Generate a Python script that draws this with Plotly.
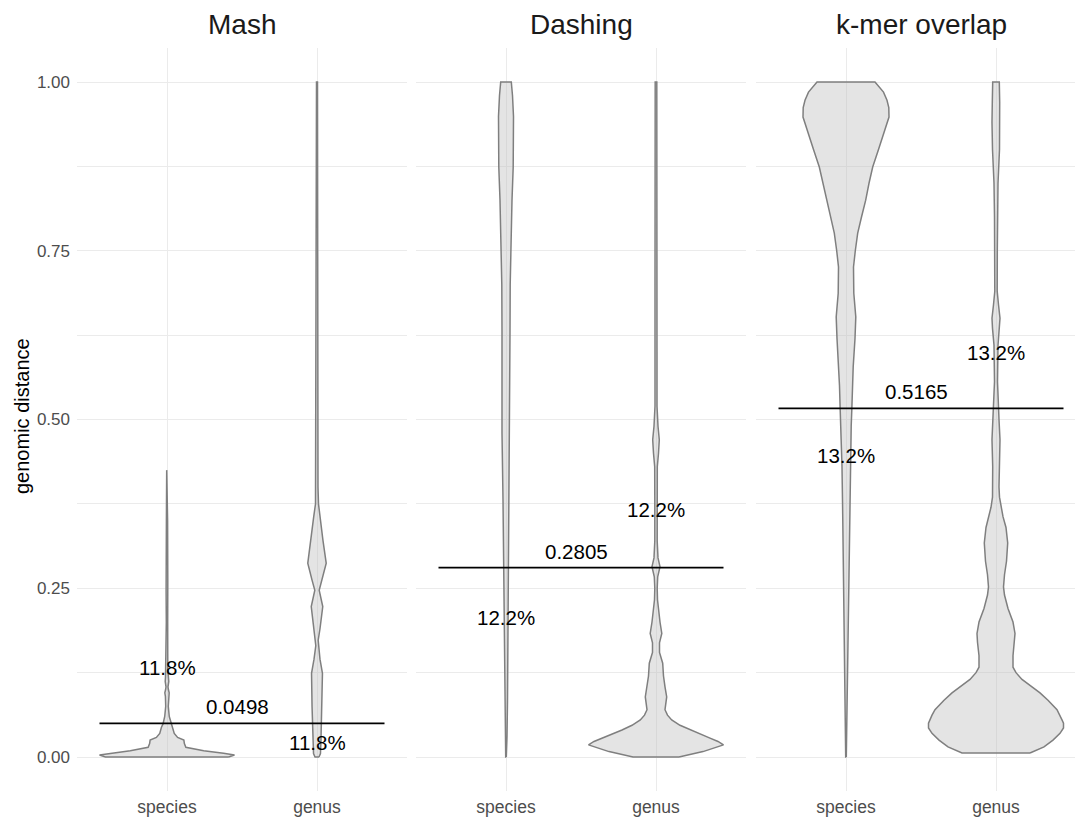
import plotly.graph_objects as go

# ---- data -------------------------------------------------------------
methods = ["Mash", "Dashing", "k-mer overlap"]
groups = ["species", "genus"]

# density profiles (distance, relative density) for each method / group
mash_species_y = [0, 0.003, 0.0055, 0.0094, 0.0143, 0.02, 0.025, 0.029, 0.035, 0.044,
                  0.049, 0.06, 0.075, 0.09, 0.095, 0.1, 0.104, 0.112, 0.118, 0.13,
                  0.2, 0.245, 0.252, 0.26, 0.35, 0.425]
mash_species_d = [62, 68, 57, 37, 19, 17.5, 17, 10.7, 7.3, 5.6,
                  4, 2.3, 1.3, 1.6, 2.2, 1.4, 1.0, 1.8, 1.5, 0.8,
                  0.7, 0.9, 1.4, 0.8, 0.6, 0.3]

mash_genus_y = [0, 0.005, 0.025, 0.075, 0.124, 0.145, 0.165, 0.173, 0.19, 0.223,
                0.247, 0.262, 0.287, 0.321, 0.356, 0.375, 0.4, 0.6, 1.0]
mash_genus_d = [2, 3.5, 4, 5, 5.5, 3, 1.2, 1.2, 3, 5.8,
                2.2, 5, 9.3, 6, 3.3, 1.5, 1.0, 0.8, 0.5]

dashing_species_y = [0, 0.03, 0.084, 0.183, 0.282, 0.381, 0.48, 0.504, 0.55, 0.628,
                     0.7, 0.751, 0.8, 0.825, 0.874, 0.949, 0.98, 1.0]
dashing_species_d = [0.3, 1, 1.5, 2, 2.3, 3, 4, 4, 4.2, 4,
                     4.2, 4.7, 5.5, 6, 7.2, 7.5, 6.5, 5.3]

dashing_genus_y = [0, 0.008, 0.018, 0.023, 0.028, 0.034, 0.04, 0.047, 0.055, 0.062,
                   0.07, 0.089, 0.104, 0.12, 0.139, 0.155, 0.169, 0.183, 0.2, 0.218,
                   0.233, 0.25, 0.267, 0.282, 0.295, 0.32, 0.38, 0.43, 0.45, 0.47,
                   0.49, 0.52, 0.6, 0.7, 0.8, 0.85, 1.0]
dashing_genus_d = [23, 47, 67.5, 62, 54, 44, 34, 24, 15.7, 11.5,
                   9, 10.7, 9, 7.5, 6.7, 3.5, 3.5, 5.8, 4, 2.3,
                   1.5, 1.2, 1.7, 4, 2, 1.2, 1.2, 1.3, 2.5, 3.3,
                   2, 1, 1, 1, 1.5, 1, 0.8]

kmer_species_y = [0, 0.05, 0.1, 0.16, 0.23, 0.29, 0.36, 0.43, 0.49, 0.514,
                  0.55, 0.578, 0.62, 0.652, 0.687, 0.726, 0.75, 0.776, 0.8, 0.825,
                  0.85, 0.874, 0.9, 0.924, 0.948, 0.962, 0.973, 0.985, 0.993, 1.0]
kmer_species_d = [0.3, 0.8, 1.3, 2, 2.4, 2.7, 3.3, 4, 5.2, 5.8,
                  6.5, 7.2, 9, 9.8, 7.8, 7.5, 9.3, 11.7, 15.5, 19.7,
                  23, 26.7, 32.5, 38, 43, 42.8, 41, 37.5, 33, 29]

kmer_genus_y = [0.006, 0.015, 0.025, 0.035, 0.043, 0.05, 0.055, 0.062, 0.07, 0.084,
                0.095, 0.104, 0.115, 0.125, 0.133, 0.15, 0.17, 0.183, 0.2, 0.22,
                0.24, 0.252, 0.27, 0.29, 0.317, 0.34, 0.356, 0.37, 0.385, 0.4,
                0.43, 0.47, 0.5, 0.52, 0.556, 0.61, 0.635, 0.65, 0.67, 0.69,
                0.75, 0.8, 0.85, 0.9, 0.94, 0.97, 1.0]
kmer_genus_d = [34, 48, 57, 64, 67.5, 67.5, 66, 64, 61, 52,
                44, 36, 26, 20, 17, 17, 18.5, 19, 17, 12,
                8.5, 7.5, 8.5, 10.5, 11.7, 10, 7, 5, 3.5, 3,
                3.3, 4, 3, 2.7, 1.5, 2, 3.5, 4, 2.5, 1.2,
                1.3, 1.5, 2, 3.5, 4, 3.7, 3.3]

profiles = {
    ("Mash", "species"): (mash_species_y, mash_species_d),
    ("Mash", "genus"): (mash_genus_y, mash_genus_d),
    ("Dashing", "species"): (dashing_species_y, dashing_species_d),
    ("Dashing", "genus"): (dashing_genus_y, dashing_genus_d),
    ("k-mer overlap", "species"): (kmer_species_y, kmer_species_d),
    ("k-mer overlap", "genus"): (kmer_genus_y, kmer_genus_d),
}

thresholds = [0.0498, 0.2805, 0.5165]
pct_labels = ["11.8%", "12.2%", "13.2%"]
# y positions of the percentage labels (species, genus)
pct_species_y = [0.133, 0.207, 0.447]
pct_genus_y = [0.021, 0.366, 0.600]

# ---- layout helpers ---------------------------------------------------
W, H = 1075, 818
FONT = "Liberation Sans, Arial, sans-serif"
VIOLIN_HALF = 0.45
panel_px = [(77, 407), (416, 746), (756, 1086)]
top_px, bot_px = 48.25, 790.75
y_range = [-0.05, 1.05]

fig = go.Figure()
annotations = []
layout_axes = {}

for i, method in enumerate(methods):
    k = "" if i == 0 else str(i + 1)
    xref, yref = "x" + k, "y" + k
    left, right = panel_px[i]
    vis_right = min(right, W)
    x0 = 0.4
    x1 = 0.4 + (vis_right - left) / (right - left) * 2.2
    layout_axes["xaxis" + k] = dict(
        domain=[left / W, vis_right / W], range=[x0, x1], anchor=yref,
        tickvals=[1, 2], ticktext=groups, showgrid=True, gridcolor="#EBEBEB",
        gridwidth=1.2, zeroline=False, showline=False, ticks="",
        tickfont=dict(family=FONT, size=17.5, color="#4D4D4D"),
        ticklabelstandoff=4, fixedrange=True,
    )
    layout_axes["yaxis" + k] = dict(
        domain=[1 - bot_px / H, 1 - top_px / H], range=y_range, anchor=xref,
        tickvals=[0, 0.25, 0.5, 0.75, 1.0],
        ticktext=["0.00", "0.25", "0.50", "0.75", "1.00"],
        showticklabels=(i == 0), showgrid=True, gridcolor="#EBEBEB", gridwidth=1.2,
        minor=dict(tickvals=[0.125, 0.375, 0.625, 0.875], showgrid=True,
                   gridcolor="#EBEBEB", gridwidth=1.0),
        zeroline=False, showline=False, ticks="",
        tickfont=dict(family=FONT, size=17, color="#4D4D4D"),
        ticklabelstandoff=6, fixedrange=True,
    )

    # violins, each scaled so the widest one in the panel spans 0.9
    dmax = max(max(profiles[(method, g)][1]) for g in groups)
    for gi, g in enumerate(groups):
        ys, ds = profiles[(method, g)]
        cx = gi + 1
        half = [VIOLIN_HALF * d / dmax for d in ds]
        xs = [cx + h for h in half] + [cx - h for h in reversed(half)]
        yy = list(ys) + list(reversed(ys))
        xs.append(xs[0])
        yy.append(yy[0])
        fig.add_trace(go.Scatter(
            x=xs, y=yy, xaxis=xref, yaxis=yref, mode="lines",
            line=dict(color="#7F7F7F", width=1.5),
            fill="toself", fillcolor="rgba(190,190,190,0.42)",
            hoverinfo="skip", showlegend=False,
        ))

    # threshold line spanning both violins
    t = thresholds[i]
    fig.add_trace(go.Scatter(
        x=[1 - VIOLIN_HALF, 2 + VIOLIN_HALF], y=[t, t], xaxis=xref, yaxis=yref,
        mode="lines", line=dict(color="black", width=1.8),
        hoverinfo="skip", showlegend=False,
    ))
    annotations.append(dict(
        x=1.5, y=t, xref=xref, yref=yref, text=str(t),
        showarrow=False, yanchor="bottom", yshift=3, xshift=-5,
        font=dict(family=FONT, size=20.5, color="black"),
    ))
    annotations.append(dict(
        x=1, y=pct_species_y[i], xref=xref, yref=yref, text=pct_labels[i],
        showarrow=False, font=dict(family=FONT, size=20.5, color="black"),
    ))
    annotations.append(dict(
        x=2, y=pct_genus_y[i], xref=xref, yref=yref, text=pct_labels[i],
        showarrow=False, font=dict(family=FONT, size=20.5, color="black"),
    ))

    # facet title
    annotations.append(dict(
        x=(left + right) / 2 / W, y=1 - 25 / H, xref="paper", yref="paper",
        text=method, showarrow=False, xanchor="center", yanchor="middle",
        font=dict(family=FONT, size=28, color="#1A1A1A"),
    ))

annotations.append(dict(
    x=22 / W, y=1 - 416 / H, xref="paper", yref="paper", text="genomic distance",
    textangle=-90, showarrow=False, xanchor="center", yanchor="middle",
    font=dict(family=FONT, size=20, color="black"),
))

fig.update_layout(
    width=W, height=H, autosize=False,
    margin=dict(l=0, r=0, t=0, b=0, pad=0),
    paper_bgcolor="white", plot_bgcolor="white",
    annotations=annotations, showlegend=False,
    **layout_axes,
)

fig.write_html("out.html")
